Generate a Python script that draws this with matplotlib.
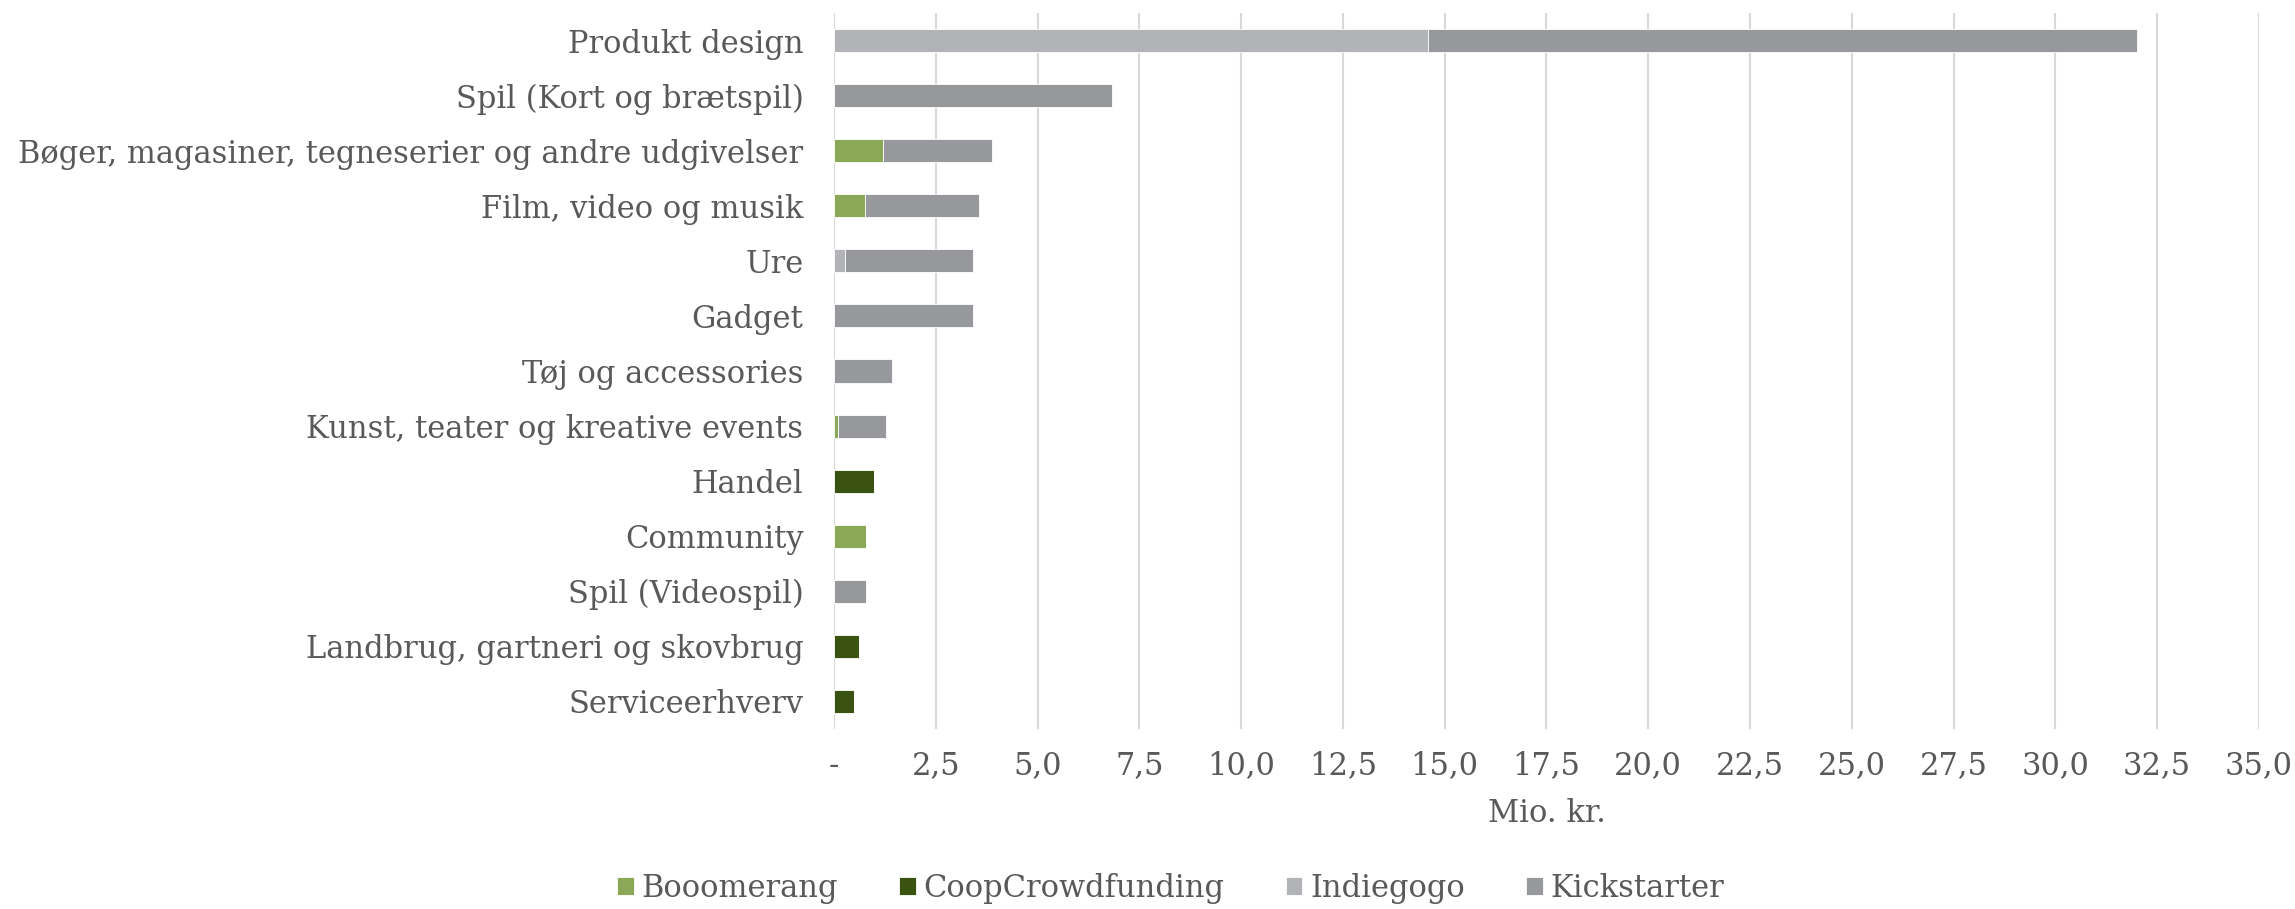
import matplotlib.pyplot as plt
import numpy as np

categories = [
    "Produkt design",
    "Spil (Kort og brætspil)",
    "Bøger, magasiner, tegneserier og andre udgivelser",
    "Film, video og musik",
    "Ure",
    "Gadget",
    "Tøj og accessories",
    "Kunst, teater og kreative events",
    "Handel",
    "Community",
    "Spil (Videospil)",
    "Landbrug, gartneri og skovbrug",
    "Serviceerhverv",
]
booomerang = [0, 0, 1.21, 0.77, 0, 0, 0, 0.09, 0, 0.79, 0, 0, 0]
coop = [0, 0, 0, 0, 0, 0, 0, 0, 0.99, 0, 0, 0.61, 0.50]
indiegogo = [14.6, 0, 0, 0, 0.27, 0, 0, 0, 0, 0, 0, 0, 0]
kickstarter = [17.4, 6.83, 2.66, 2.78, 3.15, 3.41, 1.42, 1.18, 0, 0, 0.79, 0, 0]

series = [
    ("Booomerang", booomerang, "#8ba858"),
    ("CoopCrowdfunding", coop, "#3a5311"),
    ("Indiegogo", indiegogo, "#b2b3b6"),
    ("Kickstarter", kickstarter, "#97989c"),
]

text_color = "#595959"
plt.rcParams["font.family"] = ["DejaVu Serif"]
plt.rcParams["font.size"] = 22

fig = plt.figure(figsize=(22.95, 9.09), dpi=100)
ax = fig.add_axes([0.3634, 0.198, 0.6209, 0.7877])

y = np.arange(len(categories))
left = np.zeros(len(categories))
for name, vals, color in series:
    ax.barh(y, vals, left=left, height=0.42, color=color, label=name,
            edgecolor="white", linewidth=0.6, zorder=3)
    left += np.array(vals)

ax.set_ylim(len(categories) - 0.5, -0.5)
ax.set_yticks(y)
ax.set_yticklabels(categories, color=text_color)

ticks = np.arange(0, 35.01, 2.5)
ax.set_xlim(0, 35)
ax.set_xticks(ticks)
ax.set_xticklabels(["-"] + [f"{t:.1f}".replace(".", ",") for t in ticks[1:]],
                   color=text_color)
ax.set_xlabel("Mio. kr.", color=text_color, labelpad=12)

ax.grid(axis="x", color="#d9d9d9", linewidth=1.5, zorder=0)
ax.tick_params(length=0)
ax.tick_params(axis="x", pad=15)
ax.tick_params(axis="y", pad=22)
for s in ax.spines.values():
    s.set_visible(False)

fig.legend(loc="center", bbox_to_anchor=(0.51, 0.023), ncol=4, frameon=False,
           handlelength=0.55, handleheight=0.55, handletextpad=0.25,
           columnspacing=2.0, labelcolor=text_color)

fig.savefig("out.png", dpi=100)
